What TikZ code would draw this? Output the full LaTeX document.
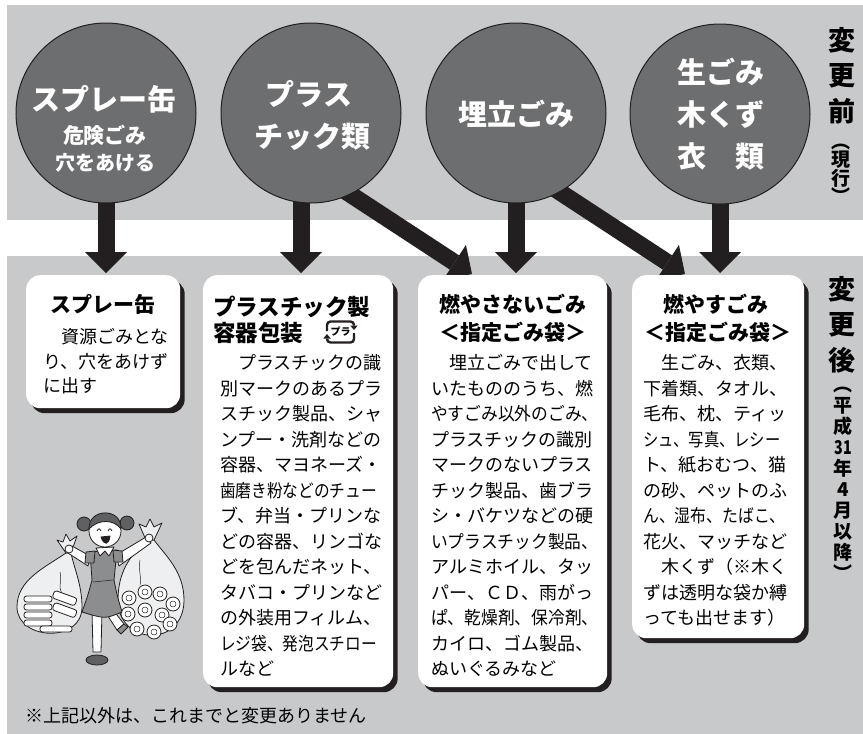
\documentclass[tikz,border=0pt]{standalone}
\usepackage{fontspec}
\usepackage{graphicx}
\setmainfont{Noto Sans CJK JP}
\usetikzlibrary{arrows.meta,shadows,calc}

\definecolor{bandgrey}{RGB}{200,201,203}
\definecolor{discgrey}{RGB}{109,110,112}
\definecolor{ink}{RGB}{35,31,32}
\definecolor{bagfill}{RGB}{238,239,240}
\definecolor{hairgrey}{RGB}{95,96,98}
\definecolor{dressgrey}{RGB}{140,141,143}

\newcommand{\hsqz}[2]{\scalebox{#1}[1]{#2}}

\pgfdeclarelayer{band}
\pgfdeclarelayer{link}
\pgfsetlayers{band,link,main}

\tikzset{
  disc/.style={circle, draw=ink, line width=1pt, fill=discgrey,
    minimum size=180pt, inner sep=0pt},
  disctext/.style={anchor=base, inner sep=0pt, text=white},
  card/.style={fill=white, rounded corners=14pt, anchor=north west,
    inner sep=0pt,
    drop shadow={shadow xshift=4.5pt, shadow yshift=-5pt, fill=ink, opacity=1}},
  bigarrow/.style={draw=ink, line width=17pt,
    -{Triangle[width=42pt,length=21pt,line width=0pt]}},
  cardtitle/.style={anchor=base, inner sep=0pt,
    font=\fontsize{21}{28}\selectfont\bfseries},
  cardbody/.style={anchor=base west, inner sep=0pt,
    font=\fontsize{18}{25.5}\selectfont},
  vbig/.style={anchor=base, inner sep=0pt,
    font=\fontsize{27}{35.5}\selectfont\bfseries},
  vsmall/.style={anchor=base, inner sep=0pt, font=\bfseries},
  outline/.style={draw=ink, line width=0.8pt, line join=round},
}

\begin{document}
\begin{tikzpicture}[x=1pt,y=-1pt]
\useasboundingbox (0,0) rectangle (863,734);

% grey bands: current rules (top) and new rules (bottom)
\begin{pgfonlayer}{band}
  \fill[bandgrey] (7,5) rectangle (863,220);
  \fill[bandgrey] (7,256) rectangle (863,734);
\end{pgfonlayer}

% current categories
\node[disc] (c1) at (106,113) {};
\node[disc] (c2) at (311,113) {};
\node[disc] (c3) at (516,113) {};
\node[disc] (c4) at (720,114) {};

\node[disctext, font=\fontsize{29}{29}\selectfont\bfseries] (c1a) at (104,110.7) {スプレー缶};
\node[disctext, font=\fontsize{21}{21}\selectfont\bfseries] (c1b) at (105,143.8) {危険ごみ};
\node[disctext, font=\fontsize{20}{20}\selectfont\bfseries] (c1c) at (106,170.4) {穴をあける};

\node[disctext, font=\fontsize{29}{29}\selectfont\bfseries] (c2a) at (309,105.7) {プラス};
\node[disctext, font=\fontsize{29}{29}\selectfont\bfseries] (c2b) at (312,147.7) {チック類};

\node[disctext, font=\fontsize{29}{29}\selectfont\bfseries] (c3a) at (516,125.7) {埋立ごみ};

\node[disctext, font=\fontsize{29}{29}\selectfont\bfseries] (c4a) at (721,83.7) {生ごみ};
\node[disctext, font=\fontsize{29}{29}\selectfont\bfseries] (c4b) at (721,125.7) {木くず};
\node[disctext, font=\fontsize{29}{29}\selectfont\bfseries] (c4c) at (721,167.7) {衣　類};

% new categories
\node[card, minimum width=154pt, minimum height=133pt] (b1) at (26,275) {};
\node[card, minimum width=190pt, minimum height=412pt] (b2) at (203,275) {};
\node[card, minimum width=189pt, minimum height=412pt] (b3) at (418,275) {};
\node[card, minimum width=172pt, minimum height=363pt] (b4) at (632,275) {};

% where each category goes
\begin{pgfonlayer}{link}
  \coordinate (a2) at (301,273);
  \draw[bigarrow] (c1.center) -- ($(b1.north -| c1.center)+(0,-2)$);
  \draw[bigarrow] (a2 |- c2.center) -- (a2);
  \draw[bigarrow] (c3.center) -- ($(b3.north -| c3.center)+(0,-2)$);
  \draw[bigarrow] (c4.center) -- ($(b4.north -| c4.center)+(0,-2)$);
  \draw[bigarrow] ($(c2.center)+(19,68)$) -- ($(b3.north west)+(54,-1)$);
  \draw[bigarrow] ($(c3.center)+(27,68)$) -- ($(b4.north west)+(53,-1)$);
\end{pgfonlayer}

% card 1
\node[cardtitle] (t1) at (103,312.8) {スプレー缶};
\node[cardbody, font=\fontsize{18}{24.5}\selectfont] (p1) at (43,343.7) {\parbox[t]{150pt}{%
　資源ごみとな\\
り、穴をあけず\\
に出す}};

% card 2
\node[cardtitle, anchor=base west, font=\fontsize{22.5}{28}\selectfont\bfseries] (t2a) at (213,315.3) {プラスチック製};
\node[cardtitle, anchor=base west, font=\fontsize{22.5}{28}\selectfont\bfseries] (t2b) at (213,341.3) {容器包装};
\begin{scope}[draw=ink, line width=2.4pt, rounded corners=3.5pt]
  \draw[-{Triangle[width=7.5pt,length=4.5pt,line width=0pt]}] (327,331) -- (327,321.5) -- (354,321.5) -- (354,330);
  \draw[-{Triangle[width=7.5pt,length=4.5pt,line width=0pt]}] (354,333) -- (354,342.5) -- (327,342.5) -- (327,334);
\end{scope}
\node[anchor=center, inner sep=0pt, font=\fontsize{10}{10}\selectfont\bfseries] (pla) at (340.5,332) {プラ};
\node[cardbody] (p2) at (220,369.7) {\parbox[t]{180pt}{%
　プラスチックの識\\
別マークのあるプラ\\
スチック製品、シャ\\
ンプー・洗剤などの\\
容器、マヨネーズ・\\
\hsqz{0.87}{歯磨き粉などのチュー}\\
ブ、弁当・プリンな\\
どの容器、リンゴな\\
どを包んだネット、\\
タバコ・プリンなど\\
の外装用フィルム、\\
\hsqz{0.87}{レジ袋、発泡スチロー}\\
ルなど}};

% card 3
\node[cardtitle] (t3a) at (513,312.8) {燃やさないごみ};
\node[cardtitle] (t3b) at (513,340.8) {＜指定ごみ袋＞};
\node[cardbody] (p3) at (431,369.7) {\parbox[t]{180pt}{%
　埋立ごみで出して\\
いたもののうち、燃\\
\hsqz{0.93}{やすごみ以外のごみ、}\\
プラスチックの識別\\
マークのないプラス\\
チック製品、歯ブラ\\
シ・バケツなどの硬\\
\hsqz{0.93}{いプラスチック製品、}\\
アルミホイル、タッ\\
パー、ＣＤ、雨がっ\\
\hsqz{0.93}{ぱ、乾燥剤、保冷剤、}\\
カイロ、ゴム製品、\\
ぬいぐるみなど}};

% card 4
\node[cardtitle] (t4a) at (716,312.8) {燃やすごみ};
\node[cardtitle] (t4b) at (718,340.8) {＜指定ごみ袋＞};
\node[cardbody] (p4) at (643,369.7) {\parbox[t]{170pt}{%
　生ごみ、衣類、\\
下着類、タオル、\\
毛布、枕、ティッ\\
\hsqz{0.85}{シュ、写真、レシー}\\
ト、紙おむつ、猫\\
の砂、ペットのふ\\
\hsqz{0.88}{ん、湿布、たばこ、}\\
花火、マッチなど\\
　木くず（※木く\\
ずは透明な袋か縛\\
っても出せます）}};

% side labels, set vertically
\node[vbig] (pre) at (842,50) {\parbox[t]{30pt}{\centering 変\\更\\前}};
\node[vsmall, font=\fontsize{19}{18}\selectfont\bfseries] (prenote) at (841,148) {\parbox[t]{30pt}{\centering ︵\\現\\行\\︶}};
\node[vbig] (post) at (842,299) {\parbox[t]{30pt}{\centering 変\\更\\後}};
\node[vsmall, font=\fontsize{19}{21}\selectfont\bfseries] (postnote) at (843,391) {\parbox[t]{30pt}{\centering ︵\\平\\成\\\hsqz{0.75}{31}\\年\\4\\月\\以\\降\\︶}};

% footnote
\node[anchor=base west, inner sep=0pt, font=\fontsize{18}{18}\selectfont] (fn) at (25,722) {※上記以外は、これまでと変更ありません};

% girl carrying two bags
\begin{scope}[outline]
  % left bag with food trays
  \filldraw[fill=bagfill] (66,553) .. controls (44,568) and (17,580) .. (17,607)
    .. controls (17,640) and (82,644) .. (82,607) .. controls (82,585) and (74,568) .. (71,553) -- cycle;
  \filldraw[fill=bagfill] (66,553) -- (57,540) -- (63,542) -- (66,534) -- (70,541) -- (77,536) -- (71,553) -- cycle;
  \draw[line width=0.5pt] (60,572) .. controls (62,580) and (58,588) .. (62,594);
  \foreach \yy in {596,604,612,620} {
    \filldraw[fill=white, rounded corners=2.5pt] (24,\yy) rectangle (52,\yy+6);
  }
  \filldraw[fill=white, rounded corners=2.5pt, rotate around={-20:(64,600)}] (52,594) rectangle (76,602);
  \filldraw[fill=white, rounded corners=2.5pt, rotate around={-20:(64,612)}] (52,606) rectangle (76,614);
  \filldraw[fill=white, rounded corners=2.5pt] (40,626) rectangle (72,632);
  % right bag with rolls
  \filldraw[fill=bagfill] (146,540) .. controls (130,556) and (118,572) .. (118,600)
    .. controls (118,646) and (184,648) .. (184,600) .. controls (184,572) and (166,556) .. (154,540) -- cycle;
  \filldraw[fill=bagfill] (146,540) -- (139,524) -- (146,527) -- (150,519) -- (154,527) -- (162,523) -- (154,540) -- cycle;
  \draw[line width=0.5pt] (140,560) .. controls (138,570) and (142,578) .. (140,585);
  \foreach \px/\py in {129/598,145/592,160/594,173/604,128/614,145/610,162/615,137/629,154/632,170/624} {
    \filldraw[fill=white] (\px,\py) circle (7);
    \draw[line width=0.5pt] (\px,\py) circle (3);
  }
  % kicked-back leg
  \filldraw[fill=white] (104,610) -- (113,610) -- (124,624) -- (117,630) -- cycle;
  \filldraw[fill=dressgrey] (117,630) -- (124,624) -- (128,627) -- (121,634) -- cycle;
  % standing leg and shoe
  \filldraw[fill=white] (92,610) -- (102,610) -- (101,652) -- (93,652) -- cycle;
  \filldraw[fill=hairgrey] (97,660) ellipse (11 and 5);
  % dress
  \filldraw[fill=dressgrey] (90,552) -- (117,550) -- (114,580) .. controls (117,595) .. (122,612)
    .. controls (105,619) .. (82,612) .. controls (88,595) .. (92,580) -- cycle;
  \draw[line width=0.5pt] (93,582) -- (113,580);
  % arms
  \filldraw[fill=white] (90,556) -- (72,546) -- (68,553) -- (88,566) -- cycle;
  \filldraw[fill=white] (116,555) -- (146,537) -- (151,543) -- (119,566) -- cycle;
  \filldraw[fill=dressgrey] (86,552) -- (95,551) -- (94,563) -- (85,563) -- cycle;
  \filldraw[fill=dressgrey] (113,550) -- (122,551) -- (123,562) -- (114,562) -- cycle;
  \filldraw[fill=white] (69,549) circle (4);
  \filldraw[fill=white] (149,538) circle (4);
  % collar
  \filldraw[fill=white] (96,548) -- (114,547) -- (109,556) -- (105,551) -- (100,556) -- cycle;
  % head, hair and pigtails
  \filldraw[fill=hairgrey] (84,524) circle (7);
  \filldraw[fill=hairgrey] (127,523) circle (7);
  \filldraw[fill=white] (105,531) circle (16);
  \filldraw[fill=hairgrey] (89,529) .. controls (88,508) and (122,507) .. (121,529)
    .. controls (114,519) and (98,519) .. cycle;
  \draw (97,531) .. controls (99,528) .. (101,531);
  \draw (108,531) .. controls (110,528) .. (112,531);
  \filldraw[fill=ink] (101,537) .. controls (104,546) and (109,545) .. (110,536) -- cycle;
\end{scope}

\end{tikzpicture}
\end{document}
